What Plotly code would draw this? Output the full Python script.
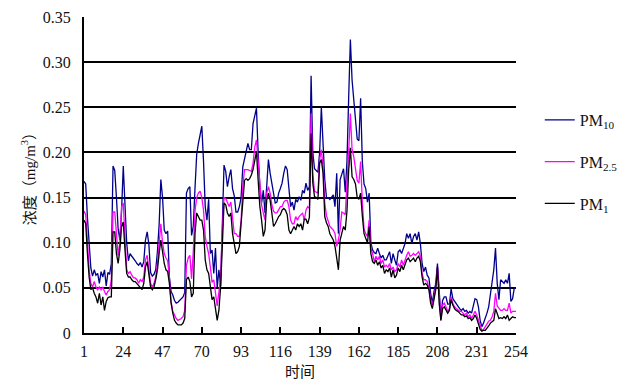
import plotly.graph_objects as go

pm10 = [
    0.168, 0.165, 0.128, 0.093, 0.072, 0.063, 0.070, 0.064, 0.066, 0.055,
    0.068, 0.062, 0.070, 0.052, 0.067, 0.065, 0.077, 0.185, 0.180, 0.150,
    0.115, 0.103, 0.135, 0.185, 0.135, 0.100, 0.080, 0.088, 0.085, 0.083,
    0.080, 0.077, 0.075, 0.078, 0.073, 0.079, 0.103, 0.112, 0.098, 0.067,
    0.063, 0.065, 0.070, 0.090, 0.120, 0.170, 0.150, 0.114, 0.110, 0.113,
    0.062, 0.046, 0.042, 0.036, 0.033, 0.034, 0.036, 0.038, 0.040, 0.045,
    0.155, 0.160, 0.162, 0.108, 0.118, 0.160, 0.198, 0.210, 0.220, 0.229,
    0.190, 0.140, 0.125, 0.148, 0.088, 0.092, 0.066, 0.094, 0.050, 0.070,
    0.052, 0.107, 0.186, 0.179, 0.162, 0.173, 0.181, 0.160, 0.152, 0.134,
    0.134, 0.140, 0.150, 0.184, 0.193, 0.200, 0.210, 0.203, 0.203, 0.232,
    0.240, 0.249, 0.199, 0.162, 0.144, 0.158, 0.133, 0.169, 0.192, 0.177,
    0.165, 0.158, 0.144, 0.145, 0.155, 0.160, 0.166, 0.177, 0.185, 0.181,
    0.158, 0.140, 0.145, 0.136, 0.148, 0.145, 0.151, 0.147, 0.158, 0.155,
    0.166, 0.158, 0.162, 0.285, 0.200, 0.182, 0.180, 0.178, 0.200, 0.250,
    0.210, 0.170, 0.150, 0.150, 0.148, 0.150, 0.153, 0.140, 0.177, 0.110,
    0.170, 0.176, 0.182, 0.156, 0.190, 0.260, 0.325, 0.280, 0.260, 0.235,
    0.215, 0.213, 0.260, 0.190, 0.165, 0.160, 0.145, 0.155, 0.100, 0.092,
    0.089, 0.088, 0.094, 0.088, 0.083, 0.086, 0.081, 0.081, 0.085, 0.090,
    0.077, 0.088, 0.081, 0.075, 0.090, 0.092, 0.088, 0.094, 0.099, 0.110,
    0.105, 0.110, 0.099, 0.107, 0.110, 0.103, 0.112, 0.099, 0.077, 0.068,
    0.073, 0.064, 0.061, 0.044, 0.033, 0.046, 0.055, 0.077, 0.044, 0.018,
    0.036, 0.040, 0.040, 0.032, 0.032, 0.049, 0.038, 0.035, 0.033, 0.029,
    0.027, 0.025, 0.027, 0.024, 0.025, 0.022, 0.024, 0.022, 0.029, 0.038,
    0.037, 0.029, 0.014, 0.007, 0.011, 0.016, 0.022, 0.029, 0.042, 0.055,
    0.070, 0.094, 0.055, 0.037, 0.059, 0.057, 0.055, 0.059, 0.055, 0.066,
    0.035, 0.038, 0.050, 0.050,
]

pm25 = [
    0.135, 0.131, 0.103, 0.070, 0.055, 0.051, 0.057, 0.051, 0.048, 0.051,
    0.048, 0.051, 0.046, 0.042, 0.046, 0.048, 0.059, 0.134, 0.134, 0.110,
    0.086, 0.100, 0.140, 0.144, 0.103, 0.070, 0.066, 0.068, 0.064, 0.061,
    0.061, 0.059, 0.055, 0.059, 0.057, 0.062, 0.081, 0.086, 0.070, 0.055,
    0.051, 0.055, 0.062, 0.077, 0.099, 0.121, 0.100, 0.088, 0.083, 0.080,
    0.060, 0.035, 0.024, 0.019, 0.016, 0.014, 0.015, 0.016, 0.018, 0.025,
    0.075, 0.083, 0.086, 0.060, 0.090, 0.135, 0.150, 0.155, 0.157, 0.150,
    0.136, 0.107, 0.096, 0.088, 0.073, 0.056, 0.059, 0.044, 0.030, 0.045,
    0.062, 0.114, 0.150, 0.149, 0.144, 0.140, 0.145, 0.125, 0.110, 0.110,
    0.107, 0.107, 0.125, 0.162, 0.181, 0.181, 0.181, 0.180, 0.179, 0.188,
    0.206, 0.214, 0.188, 0.158, 0.142, 0.133, 0.125, 0.155, 0.162, 0.155,
    0.142, 0.135, 0.133, 0.133, 0.136, 0.140, 0.140, 0.145, 0.147, 0.147,
    0.140, 0.125, 0.121, 0.121, 0.129, 0.125, 0.129, 0.131, 0.133, 0.125,
    0.136, 0.140, 0.138, 0.243, 0.177, 0.157, 0.156, 0.155, 0.192, 0.203,
    0.184, 0.144, 0.130, 0.125, 0.118, 0.116, 0.114, 0.110, 0.096, 0.103,
    0.115, 0.134, 0.133, 0.131, 0.160, 0.200, 0.243, 0.203, 0.195, 0.180,
    0.169, 0.166, 0.190, 0.145, 0.115, 0.110, 0.107, 0.125, 0.094, 0.088,
    0.079, 0.085, 0.081, 0.085, 0.077, 0.081, 0.073, 0.075, 0.073, 0.077,
    0.070, 0.073, 0.068, 0.070, 0.077, 0.073, 0.081, 0.075, 0.081, 0.086,
    0.090, 0.085, 0.086, 0.088, 0.086, 0.088, 0.090, 0.085, 0.066, 0.059,
    0.059, 0.057, 0.050, 0.037, 0.031, 0.040, 0.051, 0.073, 0.037, 0.014,
    0.031, 0.033, 0.029, 0.024, 0.027, 0.040, 0.033, 0.029, 0.027, 0.025,
    0.024, 0.024, 0.022, 0.020, 0.022, 0.018, 0.020, 0.016, 0.020, 0.024,
    0.020, 0.014, 0.007, 0.003, 0.004, 0.007, 0.011, 0.013, 0.014, 0.018,
    0.024, 0.044, 0.030, 0.027, 0.025, 0.025, 0.027, 0.025, 0.025, 0.033,
    0.022, 0.024, 0.024, 0.024,
]

pm1 = [
    0.125, 0.121, 0.088, 0.062, 0.048, 0.050, 0.044, 0.040, 0.033, 0.044,
    0.031, 0.040, 0.025, 0.035, 0.039, 0.040, 0.040, 0.112, 0.112, 0.088,
    0.077, 0.092, 0.118, 0.123, 0.092, 0.066, 0.062, 0.062, 0.059, 0.057,
    0.057, 0.055, 0.053, 0.051, 0.048, 0.055, 0.073, 0.079, 0.062, 0.051,
    0.048, 0.051, 0.059, 0.070, 0.088, 0.103, 0.090, 0.077, 0.070, 0.068,
    0.055, 0.033, 0.022, 0.014, 0.011, 0.009, 0.009, 0.009, 0.011, 0.016,
    0.059, 0.062, 0.057, 0.040, 0.044, 0.110, 0.133, 0.128, 0.125, 0.125,
    0.114, 0.081, 0.070, 0.066, 0.051, 0.037, 0.040, 0.025, 0.014, 0.025,
    0.051, 0.096, 0.144, 0.142, 0.133, 0.129, 0.133, 0.110, 0.096, 0.088,
    0.090, 0.096, 0.121, 0.150, 0.169, 0.171, 0.169, 0.171, 0.175, 0.181,
    0.192, 0.201, 0.169, 0.140, 0.125, 0.107, 0.114, 0.147, 0.155, 0.147,
    0.133, 0.118, 0.121, 0.125, 0.129, 0.131, 0.136, 0.138, 0.136, 0.131,
    0.114, 0.110, 0.114, 0.118, 0.114, 0.121, 0.118, 0.121, 0.114, 0.126,
    0.126, 0.121, 0.128, 0.221, 0.166, 0.151, 0.150, 0.148, 0.188, 0.192,
    0.177, 0.129, 0.122, 0.118, 0.110, 0.106, 0.103, 0.096, 0.081, 0.070,
    0.103, 0.110, 0.118, 0.114, 0.135, 0.180, 0.205, 0.173, 0.170, 0.165,
    0.150, 0.148, 0.155, 0.130, 0.110, 0.105, 0.100, 0.118, 0.088, 0.079,
    0.077, 0.081, 0.075, 0.079, 0.072, 0.075, 0.066, 0.070, 0.068, 0.072,
    0.062, 0.070, 0.061, 0.064, 0.072, 0.068, 0.075, 0.070, 0.077, 0.081,
    0.083, 0.079, 0.081, 0.083, 0.079, 0.083, 0.085, 0.079, 0.062, 0.053,
    0.055, 0.053, 0.048, 0.033, 0.027, 0.037, 0.048, 0.073, 0.033, 0.014,
    0.027, 0.029, 0.025, 0.022, 0.025, 0.037, 0.031, 0.027, 0.025, 0.024,
    0.022, 0.020, 0.020, 0.018, 0.019, 0.016, 0.017, 0.014, 0.016, 0.020,
    0.016, 0.011, 0.004, 0.002, 0.003, 0.003, 0.005, 0.008, 0.011, 0.013,
    0.014, 0.027, 0.020, 0.016, 0.017, 0.016, 0.018, 0.016, 0.020, 0.014,
    0.016, 0.018, 0.017, 0.017,
]

x_tick_vals = [1, 24, 47, 70, 93, 116, 139, 162, 185, 208, 231, 254]
y_tick_vals = [0, 0.05, 0.10, 0.15, 0.20, 0.25, 0.30, 0.35]
y_tick_text = ["0", "0.05", "0.10", "0.15", "0.20", "0.25", "0.30", "0.35"]
grid_vals = [0.05, 0.10, 0.15, 0.20, 0.25, 0.30]
series_names = ["PM<sub>10</sub>", "PM<sub>2.5</sub>", "PM<sub>1</sub>"]
series_colors = ["#00008B", "#FF00FF", "#000000"]
x_title = "时间"
y_title = "浓度（mg/m<sup>3</sup>）"

x = list(range(1, len(pm10) + 1))

fig = go.Figure()
for name, vals, col in zip(series_names, [pm10, pm25, pm1], series_colors):
    fig.add_trace(go.Scatter(
        x=x, y=vals, mode="lines", name=name, legendgroup=name,
        line=dict(color=col, width=1.3),
    ))

font_family = "'Liberation Serif', 'Times New Roman', 'Noto Sans CJK SC', serif"
txt_color = "#111111"

fig.update_layout(
    width=617, height=388,
    margin=dict(l=84, r=101, t=17, b=55, autoexpand=False),
    paper_bgcolor="white", plot_bgcolor="white",
    font=dict(family=font_family, size=16, color=txt_color),
    showlegend=True,
    legend=dict(
        x=1.055, y=0.728, xanchor="left", yanchor="top",
        tracegroupgap=18, bgcolor="rgba(0,0,0,0)",
        font=dict(family=font_family, size=16, color=txt_color),
    ),
)

fig.update_xaxes(
    range=[1, 254], tickmode="array", tickvals=x_tick_vals,
    ticks="inside", ticklen=6, tickwidth=1.5, tickcolor="black",
    showline=True, linecolor="black", linewidth=2,
    showgrid=False, zeroline=False,
    ticklabelstandoff=3,
    title=dict(text=x_title, standoff=7,
               font=dict(family=font_family, size=15, color=txt_color)),
)

fig.update_yaxes(
    range=[0, 0.35], tickmode="array", tickvals=y_tick_vals, ticktext=y_tick_text,
    ticks="inside", ticklen=6, tickwidth=1.5, tickcolor="black",
    showline=True, linecolor="black", linewidth=2,
    showgrid=False, zeroline=False,
    minor=dict(tickvals=grid_vals, showgrid=True, gridcolor="black", gridwidth=2, ticks=""),
    ticklabelstandoff=8,
    title=dict(text=y_title, standoff=4,
               font=dict(family=font_family, size=15, color=txt_color)),
)

fig.write_html("out.html", config={"displayModeBar": False})
